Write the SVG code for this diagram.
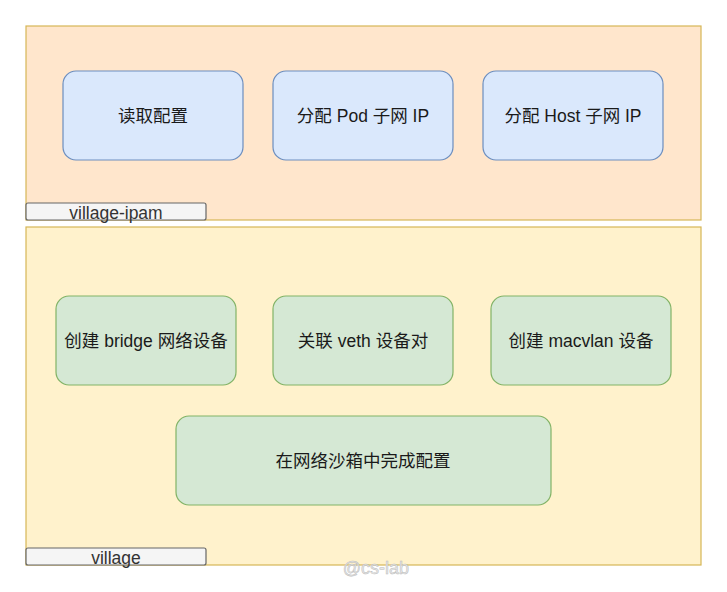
<svg xmlns="http://www.w3.org/2000/svg" width="727" height="592" viewBox="0 0 727 592">
<style>
.cont{stroke:#d6b656;stroke-width:1.2}
.lbl{fill:#f5f5f5;stroke:#666666;stroke-width:1.2}
.blue{fill:#dae8fc;stroke:#6c8ebf;stroke-width:1.2}
.green{fill:#d5e8d4;stroke:#82b366;stroke-width:1.2}
text{font-family:"Liberation Sans","Noto Sans CJK SC",sans-serif;fill:#1a1a1a;text-anchor:middle;dominant-baseline:central}
.t{font-size:17.5px}
.s{font-size:17.5px;fill:#333}
</style>
<rect width="727" height="592" fill="#ffffff"/>
<g id="village-ipam">
<rect class="cont" x="26" y="26" width="675" height="194" fill="#ffe6cc"/>
<rect class="lbl" x="26" y="203" width="180" height="17" rx="2"/>
<text class="s" x="116" y="213">village-ipam</text>
</g>
<g id="village">
<rect class="cont" x="26" y="227" width="675" height="338" fill="#fff2cc"/>
<rect class="lbl" x="26" y="548" width="180" height="17" rx="2"/>
<text class="s" x="116" y="558">village</text>
</g>
<g id="n1"><rect class="blue" x="63" y="71" width="180" height="89" rx="13"/><text class="t" x="153" y="116">读取配置</text></g>
<g id="n2"><rect class="blue" x="273" y="71" width="180" height="89" rx="13"/><text class="t" x="363" y="116">分配 Pod 子网 IP</text></g>
<g id="n3"><rect class="blue" x="483" y="71" width="180" height="89" rx="13"/><text class="t" x="573" y="116">分配 Host 子网 IP</text></g>
<g id="n4"><rect class="green" x="56" y="296" width="180" height="89" rx="13"/><text class="t" x="146" y="341">创建 bridge 网络设备</text></g>
<g id="n5"><rect class="green" x="273" y="296" width="180" height="89" rx="13"/><text class="t" x="363" y="341">关联 veth 设备对</text></g>
<g id="n6"><rect class="green" x="491" y="296" width="180" height="89" rx="13"/><text class="t" x="581" y="341">创建 macvlan 设备</text></g>
<g id="n7"><rect class="green" x="176" y="416" width="375" height="89" rx="13"/><text class="t" x="363" y="461">在网络沙箱中完成配置</text></g>
<g id="connectors"></g>
<text x="376" y="568" style="font-size:18px;fill:#e8e8e8;stroke:#bbbbbb;stroke-width:0.5">@cs-lab</text>
</svg>
